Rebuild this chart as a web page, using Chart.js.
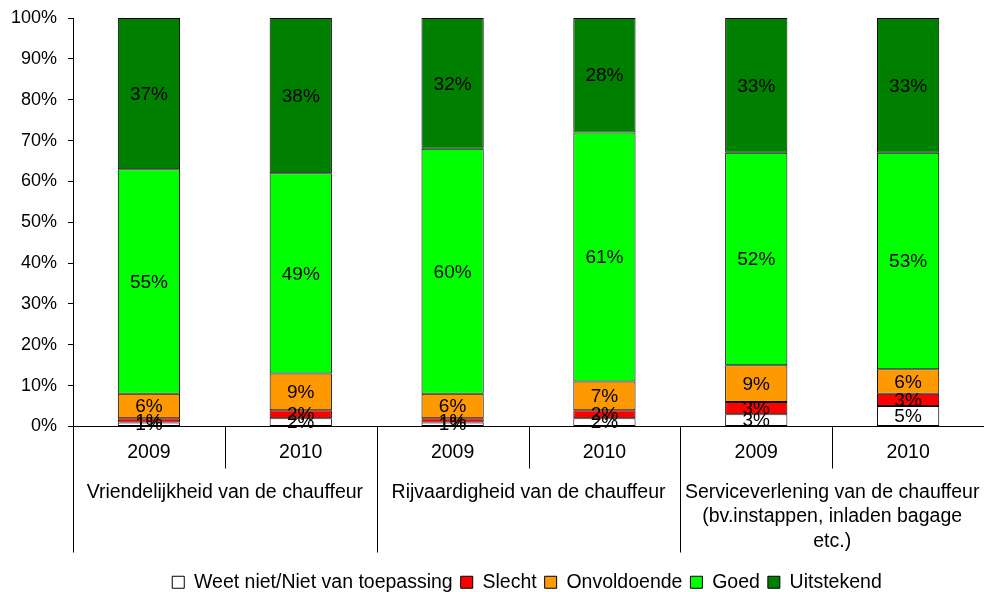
<!DOCTYPE html>
<html lang="nl">
<head>
    <meta charset="UTF-8">
    <title>Beoordeling chauffeur</title>
    <style>
        body, html {
            margin: 0;
            padding: 0;
            background: #ffffff;
        }
        #wrap {
            width: 984px;
            height: 592px;
        }
    </style>
</head>
<body>
    <div id="wrap"><canvas id="chart"></canvas></div>

    <script src="https://cdn.jsdelivr.net/npm/chart.js"></script>
    <script>
        // categories
        const years = ['2009', '2010', '2009', '2010', '2009', '2010'];
        const groups = [
            ['Vriendelijkheid van de chauffeur'],
            ['Rijvaardigheid van de chauffeur'],
            ['Serviceverlening van de chauffeur', '(bv.instappen, inladen bagage', 'etc.)']
        ];

        // series values (%)
        const weetNiet    = [1, 2, 1, 2, 3, 5];
        const slecht      = [1, 2, 1, 2, 3, 3];
        const onvoldoende = [6, 9, 6, 7, 9, 6];
        const goed        = [55, 49, 60, 61, 52, 53];
        const uitstekend  = [37, 38, 32, 28, 33, 33];

        const yTicks = [0, 10, 20, 30, 40, 50, 60, 70, 80, 90, 100];

        const FONT = 'Arial, "Liberation Sans", sans-serif';

        // labels in the middle of every segment
        const segmentLabels = {
            id: 'segmentLabels',
            afterDatasetsDraw(chart) {
                const ctx = chart.ctx;
                ctx.save();
                ctx.font = '19px ' + FONT;
                ctx.fillStyle = '#000';
                ctx.textAlign = 'center';
                ctx.textBaseline = 'middle';
                chart.data.datasets.forEach((ds, di) => {
                    chart.getDatasetMeta(di).data.forEach((bar, i) => {
                        const mid = (bar.y + bar.base) / 2;
                        ctx.fillText(ds.data[i] + '%', bar.x, mid + 1);
                    });
                });
                ctx.restore();
            }
        };

        // two-level category axis with separators, legend nudged
        const groupAxis = {
            id: 'groupAxis',
            afterLayout(chart) {
                const lg = chart.legend;
                if (lg) {
                    lg.top += 10;
                    lg.bottom += 10;
                    lg.left += 35;
                    lg.right += 35;
                }
            },
            afterDraw(chart) {
                const ctx = chart.ctx;
                const x = chart.scales.x;
                const area = chart.chartArea;
                const y0 = area.bottom;
                const step = x.width / years.length;
                ctx.save();
                ctx.strokeStyle = '#000';
                ctx.lineWidth = 1;
                for (let i = 0; i < years.length; i++) {
                    const left = x.getPixelForValue(i) - step / 2;
                    const len = (i % 2 === 0) ? 126 : 42;
                    const px = Math.round(left) + 0.5;
                    ctx.beginPath();
                    ctx.moveTo(px, y0);
                    ctx.lineTo(px, y0 + len);
                    ctx.stroke();
                }
                ctx.font = '19.5px ' + FONT;
                ctx.fillStyle = '#000';
                ctx.textAlign = 'center';
                ctx.textBaseline = 'middle';
                years.forEach((yr, i) => {
                    ctx.fillText(yr, x.getPixelForValue(i), y0 + 26);
                });
                groups.forEach((lines, g) => {
                    const cx = (x.getPixelForValue(g * 2) + x.getPixelForValue(g * 2 + 1)) / 2;
                    lines.forEach((ln, k) => {
                        ctx.fillText(ln, cx, y0 + 66 + k * 24.5);
                    });
                });
                ctx.restore();
            }
        };

        function makeSet(label, data, color) {
            return {
                label: label,
                data: data,
                backgroundColor: color,
                borderColor: '#000',
                borderWidth: 1,
                borderSkipped: false,
                categoryPercentage: 1,
                barPercentage: 0.41
            };
        }

        new Chart(document.getElementById('chart'), {
            type: 'bar',
            data: {
                labels: years,
                datasets: [
                    makeSet('Weet niet/Niet van toepassing', weetNiet, '#ffffff'),
                    makeSet('Slecht', slecht, '#ff0000'),
                    makeSet('Onvoldoende', onvoldoende, '#ff9900'),
                    makeSet('Goed', goed, '#00ff00'),
                    makeSet('Uitstekend', uitstekend, '#008000')
                ]
            },
            options: {
                responsive: true,
                maintainAspectRatio: false,
                animation: false,
                layout: { padding: { top: 0, right: 0, left: 0, bottom: 0 } },
                plugins: {
                    legend: {
                        position: 'bottom',
                        labels: {
                            color: '#000',
                            font: { family: FONT, size: 19.5 },
                            boxWidth: 12,
                            boxHeight: 12,
                            padding: 8
                        }
                    },
                    tooltip: { enabled: false }
                },
                scales: {
                    x: {
                        stacked: true,
                        grid: { display: false },
                        border: { display: true, color: '#000' },
                        ticks: { display: false },
                        afterFit(scale) { scale.height = 128; }
                    },
                    y: {
                        stacked: true,
                        min: 0,
                        max: 100,
                        afterBuildTicks(scale) {
                            scale.ticks = yTicks.map(v => ({ value: v }));
                        },
                        afterFit(scale) {
                            scale.paddingTop = 18;
                            scale.paddingBottom = 0;
                        },
                        grid: {
                            drawOnChartArea: false,
                            drawTicks: true,
                            tickLength: 5,
                            color: '#000'
                        },
                        border: { color: '#000' },
                        ticks: {
                            color: '#000',
                            padding: 11,
                            font: { family: FONT, size: 18 },
                            callback: v => v + '%'
                        }
                    }
                }
            },
            plugins: [segmentLabels, groupAxis]
        });
    </script>
</body>
</html>
